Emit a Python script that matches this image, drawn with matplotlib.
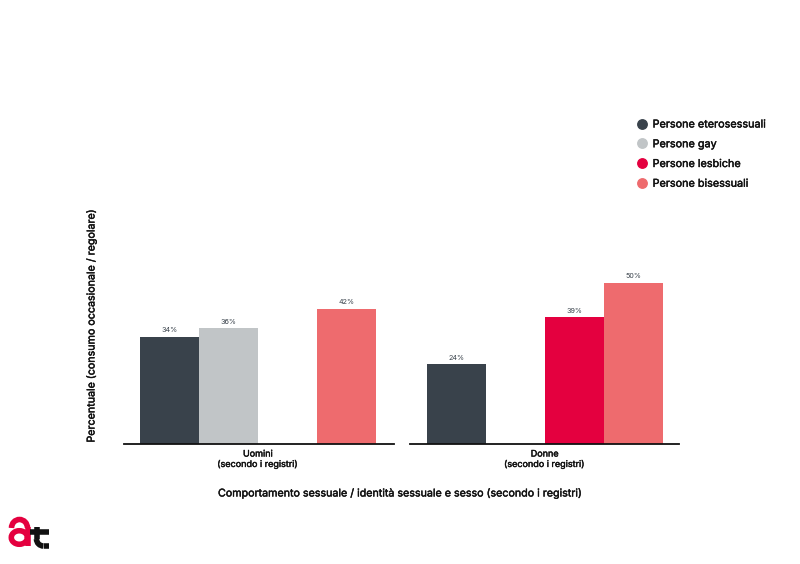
import matplotlib
matplotlib.use("Agg")
import matplotlib.pyplot as plt
import matplotlib.patheffects as pe
from matplotlib.lines import Line2D
from matplotlib.patches import Arc

plt.rcParams['font.family'] = ['Inter', 'DejaVu Sans']

groups = ["Uomini\n(secondo i registri)", "Donne\n(secondo i registri)"]
series = ["Persone eterosessuali", "Persone gay", "Persone lesbiche", "Persone bisessuali"]
colors = ["#39424B", "#C1C5C7", "#E4003F", "#EE6B6E"]
men_values = [33.3, 36.0, None, 42.0]
women_values = [24.8, None, 39.4, 50.0]
men_labels = ["34%", "36%", None, "42%"]
women_labels = ["24%", None, "39%", "50%"]
xlabel = "Comportamento sessuale / identità sessuale e sesso (secondo i registri)"
ylabel = "Percentuale (consumo occasionale / regolare)"

W, H = 800, 564
INK = "#111111"
fig = plt.figure(figsize=(W / 100, H / 100), dpi=100, facecolor="white")
heavy = [pe.withStroke(linewidth=0.3, foreground=INK)]

def make_axes(x0, x1, y0=100, y1=444):
    return fig.add_axes([x0 / W, 1 - y1 / H, (x1 - x0) / W, (y1 - y0) / H])

panels = [(124, 394, 140.0, men_values, men_labels, groups[0]),
          (410, 679, 426.8, women_values, women_labels, groups[1])]
PX_PER_UNIT = 3.22
BAR_PX = 59
for x0, x1, first, vals, labs, grp in panels:
    ax = make_axes(x0, x1)
    left = -0.5 - (first - x0) / BAR_PX
    ax.set_xlim(left, left + (x1 - x0) / BAR_PX)
    ax.set_ylim(0, 344 / PX_PER_UNIT)
    for i, (v, lab, c) in enumerate(zip(vals, labs, colors)):
        if v is None:
            continue
        ax.bar(i, v, width=1.0, color=c, linewidth=0)
        ax.text(i, v + 1.1, lab, ha="center", va="bottom", fontsize=5.2, color="#39424B")
    for s in ("top", "left", "right"):
        ax.spines[s].set_visible(False)
    ax.spines["bottom"].set_linewidth(1.3)
    ax.spines["bottom"].set_color(INK)
    ax.set_yticks([])
    ax.set_xticks([1.5])
    ax.set_xticklabels([grp], fontsize=6.5, color=INK, linespacing=1.2, path_effects=heavy)
    ax.tick_params(axis="x", length=0, pad=4)

fig.text(400 / W, 1 - 493 / H, xlabel, ha="center", va="center", fontsize=7.7,
         color=INK, path_effects=heavy)
fig.text(91 / W, 1 - 326 / H, ylabel, ha="center", va="center", rotation=90, fontsize=7.7,
         color=INK, path_effects=heavy)

handles = [Line2D([], [], linestyle="none", marker="o", markersize=6.8, color=c) for c in colors]
leg = fig.legend(handles, series, loc="upper left", bbox_to_anchor=(632 / W, 1 - 119.5 / H),
                 bbox_transform=fig.transFigure, frameon=False, fontsize=7.8,
                 labelspacing=0.9, handletextpad=0.0, handlelength=1.9,
                 borderaxespad=0, borderpad=0)
for t in leg.get_texts():
    t.set_color(INK)
    t.set_path_effects(heavy)

# brand mark, drawn in a small overlay in pixel coordinates
logo = fig.add_axes([0, 1 - 560 / H, 60 / W, 50 / H])
logo.set_xlim(0, 60)
logo.set_ylim(560, 510)
logo.axis("off")
RED, STROKE = "#E4003F", 4.0
logo.add_patch(Arc((19.3, 537.5), 16, 13.5, color=RED, lw=STROKE))
logo.add_patch(Arc((19.5, 528), 16, 17, theta1=180, theta2=360, color=RED, lw=STROKE))
logo.plot([27.5, 27.5], [527, 546], color=RED, lw=STROKE, solid_capstyle="butt")
logo.plot([30, 49], [532, 532], color=INK, lw=STROKE, solid_capstyle="butt")
logo.plot([36.5, 36.5], [527, 539], color=INK, lw=STROKE, solid_capstyle="butt")
logo.add_patch(Arc((43.5, 539), 14, 14, theta1=90, theta2=180, color=INK, lw=STROKE))
logo.plot([43.5, 49], [545.5, 545.5], color=INK, lw=STROKE, solid_capstyle="butt")

fig.savefig("out.png", dpi=100, facecolor="white")
